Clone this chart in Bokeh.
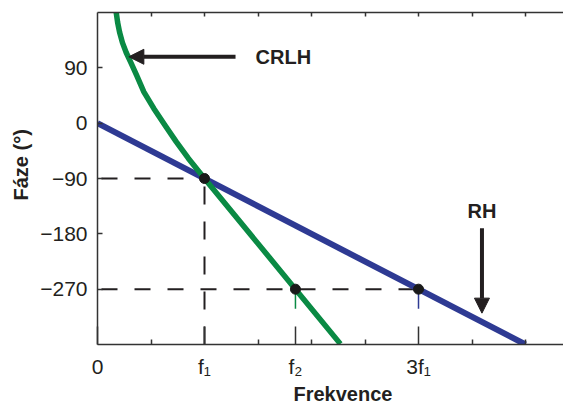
from bokeh.plotting import figure
from bokeh.models import Range1d, LinearAxis, FixedTicker, Label, Arrow, NormalHead, Title
from bokeh.embed import file_html
from bokeh.resources import INLINE

# ---- data (frequency in units of f1, phase in degrees) ----
freq_ticks = [0, 1, 1.85, 3]
freq_tick_labels = ["0", "f\u2081", "f\u2082", "3f\u2081"]
freq_minor_ticks = [0.5, 1.5, 2.0, 2.5, 3.5, 4.0]
freq_top_ticks = [0.5, 1.0, 1.5, 2.0, 2.5, 3.0, 3.5, 4.0]
phase_ticks = [90, 0, -90, -180, -270]
phase_tick_labels = ["90", "0", "\u221290", "\u2212180", "\u2212270"]

rh_freq = [0.0, 4.0]
rh_phase = [0, -360]

crlh_freq = [0.175, 0.188, 0.2065, 0.233, 0.268, 0.311, 0.365, 0.433, 0.526, 0.629, 0.735, 0.848, 1.0, 1.85, 2.27]
crlh_phase = [180, 164, 148, 131, 115, 99, 78, 51, 24, -3, -30, -57, -90, -270, -359]

marked_freq = [1.0, 1.85, 3.0]
marked_phase = [-90, -270, -270]

X_END = 4.355
Y_START, Y_END = -360, 180

BLUE = "#2e3a93"
GREEN = "#0a8a44"
INK = "#231f20"
AXC = "#333333"
FONT = "Liberation Sans"

p = figure(width=563, height=408, output_backend="svg", toolbar_location=None,
           x_range=Range1d(0, X_END), y_range=Range1d(Y_START, Y_END),
           min_border_left=97, min_border_right=0, min_border_top=12, min_border_bottom=64)
p.xgrid.visible = False
p.ygrid.visible = False
p.outline_line_color = None
p.background_fill_color = "white"
p.border_fill_color = "white"

# bottom axis
xa = p.xaxis[0]
xa.ticker = FixedTicker(ticks=freq_ticks, minor_ticks=freq_minor_ticks)
xa.major_label_overrides = {t: l for t, l in zip(freq_ticks, freq_tick_labels)}
xa.major_tick_in = 18
xa.major_tick_out = 0
xa.minor_tick_in = 5
xa.minor_tick_out = 0
xa.major_label_standoff = 10
xa.major_label_text_font = FONT
xa.major_label_text_font_size = "21px"
xa.major_label_text_color = INK
xa.axis_line_color = AXC
xa.axis_line_width = 1.5
xa.major_tick_line_color = AXC
xa.major_tick_line_width = 1.5
xa.minor_tick_line_color = AXC
xa.minor_tick_line_width = 1.5

# left axis
ya = p.yaxis[0]
ya.ticker = FixedTicker(ticks=phase_ticks, minor_ticks=[])
ya.major_label_overrides = {t: l for t, l in zip(phase_ticks, phase_tick_labels)}
ya.major_tick_in = 5
ya.major_tick_out = 0
ya.minor_tick_in = 0
ya.minor_tick_out = 0
ya.major_label_standoff = 10
ya.major_label_text_font = FONT
ya.major_label_text_font_size = "21px"
ya.major_label_text_color = INK
ya.axis_line_color = AXC
ya.axis_line_width = 1.5
ya.major_tick_line_color = AXC
ya.major_tick_line_width = 1.5

# top border: axis line with short inner (minor) ticks, no labels
ta = LinearAxis(ticker=FixedTicker(ticks=[], minor_ticks=freq_top_ticks),
                major_tick_in=0, major_tick_out=0, minor_tick_in=4, minor_tick_out=0,
                axis_line_color=AXC, axis_line_width=1.5,
                minor_tick_line_color=AXC, minor_tick_line_width=1.5)
p.add_layout(ta, "above")

# axis titles
p.add_layout(Title(text="F\u00e1ze (\u00b0)", align="left", offset=144, standoff=12,
                   text_font=FONT, text_font_style="bold", text_font_size="20px",
                   text_color=INK), "left")
p.add_layout(Title(text="Frekvence", align="left", offset=196, standoff=0,
                   text_font=FONT, text_font_style="bold", text_font_size="20px",
                   text_color=INK), "below")

# dashed guide lines from the marked points
f1, p1 = marked_freq[0], marked_phase[0]
f3, p3 = marked_freq[2], marked_phase[2]
p.line([0, f1], [p1, p1], line_color=INK, line_width=2, line_dash="16 17", line_dash_offset=29)
p.line([f1, f1], [Y_START, p1], line_color=INK, line_width=2, line_dash="18 17")
p.line([0, f3], [p3, p3], line_color=INK, line_width=2, line_dash="16 17", line_dash_offset=29)

# small coloured drop marks under f2 and 3f1
p.segment(x0=marked_freq[1:], y0=marked_phase[1:], x1=marked_freq[1:],
          y1=[v - 32 for v in marked_phase[1:]], line_color=[GREEN, BLUE], line_width=1.5)

# curves
p.line(rh_freq, rh_phase, line_color=BLUE, line_width=6)
p.line(crlh_freq, crlh_phase, line_color=GREEN, line_width=5.5, line_join="round")

# points
p.scatter(marked_freq, marked_phase, size=10, fill_color="#1a1a1a", line_color="#1a1a1a")

# arrows
p.add_layout(Arrow(end=NormalHead(size=15, fill_color=INK, line_color=INK),
                   x_start=1.29, y_start=108, x_end=0.293, y_end=108,
                   line_color=INK, line_width=4))
p.add_layout(Arrow(end=NormalHead(size=15, fill_color=INK, line_color=INK),
                   x_start=3.593, y_start=-171, x_end=3.593, y_end=-309,
                   line_color=INK, line_width=4))

p.add_layout(Label(x=1.477, y=108, text="CRLH", text_font=FONT, text_font_style="bold",
                   text_font_size="20px", text_color=INK, text_align="left", text_baseline="middle"))
p.add_layout(Label(x=3.593, y=-143, text="RH", text_font=FONT, text_font_style="bold",
                   text_font_size="20px", text_color=INK, text_align="center", text_baseline="middle"))

open("out.html", "w").write(file_html(p, INLINE))
